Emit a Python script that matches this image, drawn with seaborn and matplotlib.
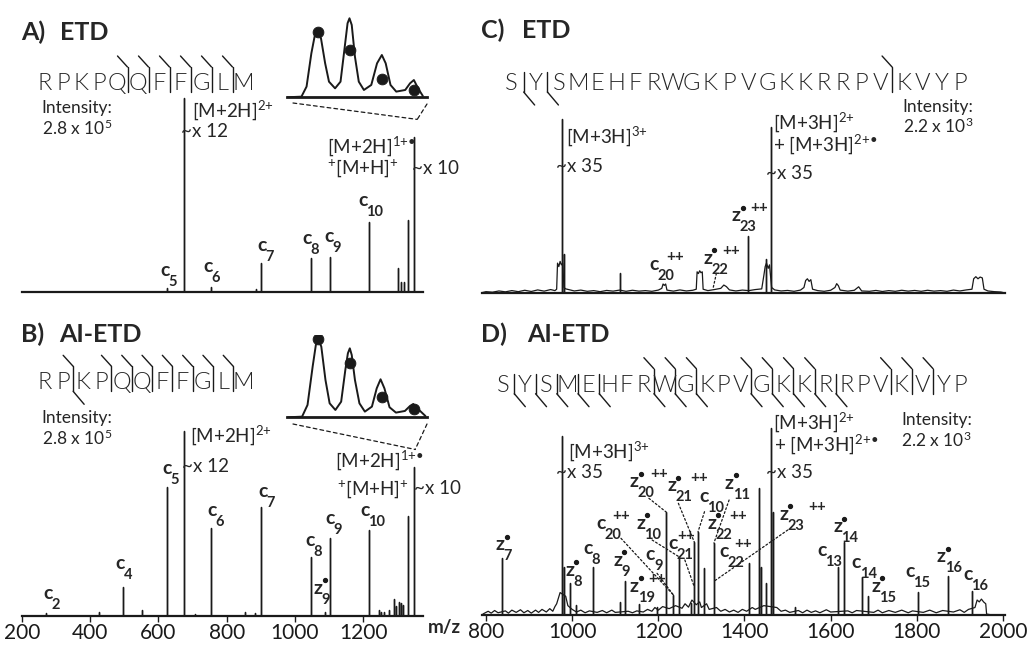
import matplotlib
matplotlib.use('Agg')
import matplotlib.pyplot as plt
from matplotlib.patches import ConnectionPatch
import pandas as pd
import seaborn as sns

# ---------------- data ----------------
# substance P, panels A (ETD) and B (AI-ETD): relative intensity, base peak = 100
a_mz = [625, 674.4, 753, 885, 900, 1047, 1104, 1217, 1302, 1311, 1320, 1330, 1347.7]
a_int = [2, 100, 2.6, 1.5, 15, 17.5, 18, 36, 12.4, 5.2, 5.2, 37, 80]

b_mz = [271, 427, 497, 552, 625, 674.4, 706, 753, 855, 883, 900, 1047, 1088, 1104, 1217,
        1245, 1253, 1260, 1275, 1289, 1296, 1304, 1310, 1316, 1330, 1347.7]
b_int = [1.6, 2.2, 15.7, 3.2, 69.7, 100, 1.2, 47.6, 2.2, 1.6, 58.9, 31.9, 2.4, 42.2, 46.5,
         3.2, 2.2, 2.2, 3.2, 9.2, 5.4, 7.6, 7, 5.9, 54, 80.5]

# ACTH 1-24, panels C (ETD) and D (AI-ETD)
c_mz = [976, 980, 1112, 1408, 1450, 1462]
c_int = [100, 22, 11.5, 32.8, 19.5, 95.4]

d_mz = [837, 976, 980, 994, 1008, 1049, 1112, 1122, 1155, 1198, 1218, 1235, 1249, 1276,
        1283.5, 1292, 1306, 1329, 1411, 1433, 1439, 1451, 1462, 1466, 1517, 1616, 1630,
        1673, 1687, 1802, 1872, 1929]
d_int = [30.3, 95.7, 25.7, 17.1, 5.3, 25.7, 7, 18.2, 5.9, 4.3, 55.1, 10.7, 31, 6.4,
         39, 44.4, 25.1, 38.5, 27.8, 67.9, 25.7, 17.1, 100, 55.1, 4.3, 25.7, 39,
         20.3, 10.2, 12.3, 20.9, 12.8]

c_noise_mz = [790, 800, 815, 830, 845, 860, 875, 890, 905, 920,
              935, 950, 960, 964, 966, 969, 972, 975, 978, 981,
              985, 995, 1005, 1020, 1035, 1050, 1065, 1080, 1095, 1110,
              1125, 1140, 1155, 1170, 1185, 1200, 1208, 1211, 1214, 1217,
              1220, 1235, 1250, 1265, 1280, 1288, 1290, 1293, 1296, 1299,
              1302, 1304, 1315, 1330, 1345, 1352, 1358, 1365, 1380, 1395,
              1410, 1425, 1440, 1445, 1448, 1451, 1455, 1458, 1463, 1470,
              1485, 1500, 1515, 1530, 1538, 1542, 1546, 1550, 1554, 1558,
              1570, 1585, 1600, 1610, 1614, 1618, 1622, 1640, 1655, 1665,
              1672, 1690, 1705, 1720, 1735, 1750, 1765, 1780, 1795, 1810,
              1825, 1840, 1855, 1870, 1885, 1900, 1915, 1928, 1932, 1937,
              1942, 1947, 1952, 1956, 1965, 1980, 1995, 2002]
c_noise_int = [0, 0.6, 0.3, 1.0, 0.5, 1.2, 0.6, 1.4, 0.7, 1.6,
               0.9, 1.8, 1.2, 2.0, 17, 15, 18, 16, 17, 3.0,
               2.2, 1.6, 1.0, 1.5, 0.8, 1.2, 0.6, 1.3, 0.9, 1.5,
               0.8, 1.4, 0.9, 1.2, 0.8, 1.5, 2.5, 5.0, 4.2, 5.0,
               1.5, 0.9, 1.6, 1.0, 1.4, 2.0, 12, 11, 12.6, 11.5,
               12, 2.0, 1.2, 1.8, 2.5, 4.4, 3.5, 1.6, 1.0, 1.5,
               1.2, 1.8, 2.2, 10, 15, 17, 14, 16, 3.0, 1.6,
               1.0, 1.3, 0.8, 1.5, 3.0, 7.0, 8.0, 6.5, 7.5, 2.0,
               1.2, 0.8, 1.4, 3.0, 5.2, 4.0, 1.5, 0.9, 1.4, 3.4,
               1.0, 0.8, 1.3, 0.7, 1.2, 0.8, 1.4, 0.9, 1.3, 0.8,
               1.4, 0.9, 1.2, 0.8, 1.5, 1.0, 1.6, 2.0, 8.0, 9.2,
               8.0, 9.0, 8.5, 2.0, 1.0, 0.6, 0.4, 0]

d_noise_mz = [790, 795, 805, 812, 820, 828, 845, 852, 860, 870,
              880, 888, 897, 905, 915, 922, 930, 940, 948, 955,
              960, 964, 968, 972, 985, 990, 1000, 1010, 1020, 1030,
              1040, 1058, 1070, 1080, 1092, 1100, 1130, 1140, 1150, 1165,
              1175, 1185, 1192, 1200, 1210, 1225, 1240, 1255, 1262, 1270,
              1278, 1288, 1296, 1300, 1312, 1318, 1335, 1345, 1355, 1365,
              1375, 1385, 1395, 1405, 1418, 1425, 1445, 1475, 1485, 1495,
              1505, 1525, 1535, 1545, 1555, 1565, 1575, 1590, 1600, 1640,
              1650, 1660, 1700, 1710, 1720, 1735, 1750, 1765, 1780, 1790,
              1815, 1830, 1845, 1860, 1885, 1900, 1910, 1920, 1935, 1940,
              1945, 1950, 1955, 1960, 1962, 1975, 2002]
d_noise_int = [0, 0.8, 2.0, 1.0, 2.4, 1.2, 2.2, 1.0, 2.6, 1.4,
               2.8, 1.2, 2.4, 1.0, 2.6, 1.4, 3.0, 1.6, 3.4, 2.0,
               4.5, 6.0, 9.0, 12, 10, 5.0, 3.0, 1.6, 2.6, 1.2,
               2.2, 1.4, 2.4, 1.2, 2.6, 1.4, 2.0, 1.2, 2.2, 1.6,
               3.0, 2.0, 4.0, 2.6, 4.5, 3.4, 5.0, 3.6, 6.0, 4.2,
               8.0, 5.5, 7.0, 4.0, 6.0, 3.0, 4.0, 2.0, 3.0, 1.6,
               2.6, 1.4, 3.0, 2.0, 4.0, 3.0, 5.0, 4.0, 2.0, 2.6,
               1.4, 2.4, 1.2, 2.6, 1.4, 2.2, 1.2, 2.8, 1.6, 2.2,
               1.2, 2.4, 1.4, 2.6, 1.2, 2.4, 1.4, 2.6, 1.2, 2.2,
               1.4, 2.6, 1.2, 2.4, 1.6, 2.8, 1.4, 3.0, 4.0, 8.0,
               7.0, 8.5, 7.0, 6.0, 0.5, 0, 0]

# isotope envelope of the precursor (insets), x = m/z offset from monoisotopic
ins_a_x = [-0.96, -0.51, -0.35, -0.20, -0.10, 0, 0.10, 0.23, 0.35, 0.54, 0.71, 0.83, 0.93, 0.99,
           1.06, 1.16, 1.28, 1.44, 1.67, 1.85, 2.0, 2.12, 2.27, 2.45, 2.73, 2.88, 3.0, 3.13, 3.28]
ins_a_y = [0, 0.8, 13, 53.5, 73.7, 78.6, 71.7, 41.3, 19, 10.9, 19, 57.5, 90, 96,
           87.9, 49.4, 19, 8.9, 15, 41.3, 51.4, 41.3, 15, 6.9, 8.9, 17, 21, 10.9, 1.6]
ins_b_x = [-0.93, -0.49, -0.32, -0.16, -0.06, 0.02, 0.11, 0.24, 0.37, 0.55, 0.73, 0.86, 0.94, 1.0,
           1.06, 1.16, 1.30, 1.47, 1.69, 1.84, 1.96, 2.08, 2.24, 2.44, 2.72, 2.88, 2.98, 3.14, 3.36]
ins_b_y = [0, 0.8, 15, 61.6, 87.9, 94.8, 85.9, 45.4, 17, 8.9, 19, 57.5, 77.8, 83.8,
           75.7, 45.4, 17, 6.9, 13, 35.2, 46.2, 35.2, 12.2, 5.7, 7.7, 13.8, 16.2, 9.7, 1.6]
iso_x = [0, 1, 2, 3]
iso_a_y = [79, 57, 22, 9]
iso_b_y = [95, 66, 25, 10]

seq_subp = 'RPKPQQFFGLM'
seq_acth = 'SYSMEHFRWGKPVGKKRRPVKVYP'

# ---------------- style ----------------
sns.set_theme(style='white')
plt.rcParams['font.family'] = ['Lato', 'DejaVu Sans']
plt.rcParams['mathtext.fontset'] = 'custom'
plt.rcParams['mathtext.rm'] = 'Lato'
plt.rcParams['mathtext.it'] = 'Lato:italic'
plt.rcParams['mathtext.bf'] = 'Lato:bold'

W, H = 1028, 651
fig = plt.figure(figsize=(W / 100, H / 100), dpi=100)


def sx(x):
    # right-hand panels were traced on a slightly wider scale
    return 486 + (x - 486) * 0.983 if x > 470 else x


def px_axes(x0, x1, ybase, ytop):
    return fig.add_axes([x0 / W, (H - ybase) / H, (x1 - x0) / W, (ybase - ytop) / H])


def sticks(mz, inten):
    rows = []
    for m, i in zip(mz, inten):
        rows += [(m, 0), (m, i), (m, 0)]
    return pd.DataFrame(rows, columns=['mz', 'intensity'])


def spectrum(ax, mz, inten, xlim, ytop, noise=None, ticks=None):
    if noise is not None:
        nd = pd.DataFrame({'mz': noise[0], 'intensity': noise[1]})
        sns.lineplot(data=nd, x='mz', y='intensity', ax=ax, color='k', lw=0.9,
                     estimator=None, sort=False)
    sns.lineplot(data=sticks(mz, inten), x='mz', y='intensity', ax=ax, color='k',
                 lw=1.0, estimator=None, sort=False)
    ax.set_xlim(*xlim)
    ax.set_ylim(0, ytop)
    for s in ['top', 'left', 'right']:
        ax.spines[s].set_visible(False)
    ax.spines['bottom'].set_linewidth(1.6)
    ax.spines['bottom'].set_color('k')
    ax.set_xlabel('')
    ax.set_ylabel('')
    ax.set_yticks([])
    ax.patch.set_alpha(0)
    if ticks is None:
        ax.set_xticks([])
    else:
        ax.set_xticks(ticks)
        ax.tick_params(axis='x', bottom=True, direction='out', length=4, width=1,
                       colors='k', labelsize=15, pad=1)


axA = px_axes(21.7, 422.7, 292, 10)
axB = px_axes(21.7, 422.7, 616, 334)
axC = px_axes(481.7, 1004.7, 292.7, 10)
axD = px_axes(481.7, 1004.7, 615, 333)

spectrum(axA, a_mz, a_int, (200, 1374), 145.4)
spectrum(axB, b_mz, b_int, (200, 1374), 152.4, ticks=[200, 400, 600, 800, 1000, 1200])
spectrum(axC, c_mz, c_int, (790, 2004), 162.5, noise=(c_noise_mz, c_noise_int))
spectrum(axD, d_mz, d_int, (790, 2004), 150.8, noise=(d_noise_mz, d_noise_int),
         ticks=[800, 1000, 1200, 1400, 1600, 1800, 2000])

# insets with the isotope envelope
for (yb, yt, ix, iy, dy) in [(97.3, 15, ins_a_x, ins_a_y, iso_a_y),
                             (417.3, 335, ins_b_x, ins_b_y, iso_b_y)]:
    ia = px_axes(286.7, 426.7, yb, yt)
    sns.lineplot(x=ix, y=iy, ax=ia, color='k', lw=1.4, estimator=None, sort=False)
    sns.scatterplot(x=iso_x, y=dy, ax=ia, color='k', s=60, edgecolor='k', zorder=3)
    ia.set_xlim(-0.97, 3.4)
    ia.set_ylim(0, 100)
    for s in ['top', 'left', 'right']:
        ia.spines[s].set_visible(False)
    ia.spines['bottom'].set_linewidth(2)
    ia.spines['bottom'].set_color('k')
    ia.set_xticks([])
    ia.set_yticks([])
    ia.patch.set_alpha(0)

# overlay in pixel units for all annotation text
ov = fig.add_axes([0, 0, 1, 1], zorder=5)
ov.set_xlim(0, W)
ov.set_ylim(H, 0)
ov.axis('off')
ov.patch.set_alpha(0)


def leader(p, ax, xy, dash=(0, (2.2, 2.2))):
    con = ConnectionPatch(xyA=(sx(p[0]), p[1]), coordsA=ov.transData, xyB=xy,
                          coordsB=ax.transData, color='k', lw=0.9, linestyle=dash)
    fig.add_artist(con)


# zoom lines from the insets down to the precursor peak
leader((293, 103), axA, (1358, 89), dash=(0, (3, 2.5)))
leader((427, 104), axA, (1358, 89), dash=(0, (3, 2.5)))
leader((293, 424), axB, (1352, 90), dash=(0, (3, 2.5)))
leader((427, 424), axB, (1352, 90), dash=(0, (3, 2.5)))

# panel titles
for x1, x2, y, a, b in [(20.7, 60, 40, 'A)', 'ETD'), (20.7, 59.3, 341.7, 'B)', 'AI-ETD'),
                        (480.7, 521.9, 38.3, 'C)', 'ETD'), (480.7, 527.2, 341.7, 'D)', 'AI-ETD')]:
    ov.text(x1, y, a, fontsize=18, fontweight='bold', va='baseline')
    ov.text(x2, y, b, fontsize=18, fontweight='bold', va='baseline')


def sequence(seq, x0, pitch, gap, ybase, c_sites, z_sites):
    yc = ybase - 9
    marked = set(c_sites) | set(z_sites)
    xs = [x0]
    for i in range(1, len(seq)):
        xs.append(xs[-1] + pitch + (gap if i in marked else 0))
    for x, aa in zip(xs, seq):
        ov.text(x, ybase, aa, fontsize=17, fontweight=300, ha='center', va='baseline')
    for site in sorted(marked):
        x = (xs[site - 1] + xs[site]) / 2
        top = yc - 14 if site in c_sites else yc - 9
        bot = yc + 11
        ov.plot([x, x], [top, bot], color='k', lw=1.0)
        if site in c_sites:
            ov.plot([x, x - 10], [top, top - 11], color='k', lw=1.0)
        if site in z_sites:
            ov.plot([x, x + 11], [bot, bot + 13], color='k', lw=1.0)


sequence(seq_subp, 45, 18, 3, 90, [5, 6, 7, 8, 9, 10], [])
sequence(seq_subp, 45, 18, 2.3, 389.3, [2, 4, 5, 6, 7, 8, 9, 10], [2])
sequence(seq_acth, sx(512.2), 19.2 * 0.983, 5 * 0.983, 90, [20], [1, 2])
sequence(seq_acth, sx(504), 17 * 0.983, 4.6 * 0.983, 391.7, [8, 9, 10, 13, 14, 15, 16, 20, 21, 22],
         [1, 2, 3, 4, 5, 8, 9, 10, 13, 14, 15, 16, 17])

# intensity notes
for x, y, s in [(41.7, 108, '2.8 x 10$^{5}$'), (41.7, 418.3, '2.8 x 10$^{5}$'),
                (910, 106.7, '2.2 x 10$^{3}$'), (908.2, 420, '2.2 x 10$^{3}$')]:
    ov.text(sx(x), y, 'Intensity:', fontsize=12.5, va='center')
    ov.text(sx(x), y + 20, s, fontsize=12.5, va='center')

# precursor labels
big = [(192, 110, '[M+2H]$^{2{+}}$'), (181, 131.7, '~x 12'),
       (326.7, 146, '[M+2H]$^{1{+}\u2022}$'), (327, 168, '$^{+}$[M+H]$^{+}$'), (412, 168, '~x 10'),
       (190, 435, '[M+2H]$^{2{+}}$'), (181.7, 466.7, '~x 12'),
       (335, 460, '[M+2H]$^{1{+}\u2022}$'), (336.7, 489, '$^{+}$[M+H]$^{+}$'), (414, 489, '~x 10'),
       (567.3, 135.8, '[M+3H]$^{3{+}}$'), (557.6, 166.7, '~x 35'),
       (777.6, 122.5, '[M+3H]$^{2{+}}$'), (777.6, 144.5, '+ [M+3H]$^{2{+}\u2022}$'), (770.5, 173.8, '~x 35'),
       (569.4, 450.8, '[M+3H]$^{3{+}}$'), (557.6, 472.5, '~x 35'),
       (778.3, 422.5, '[M+3H]$^{2{+}}$'), (779.4, 443.8, '+ [M+3H]$^{2{+}\u2022}$'), (770.5, 472.5, '~x 35')]
for x, y, s in big:
    ov.text(sx(x), y, s, fontsize=13.5, va='center')


def ion(letter, sub, x, y, dot=False, plus=0):
    x = sx(x)
    ov.text(x, y, letter, fontsize=14, fontweight='bold', ha='center', va='center')
    ov.text(x + 3.5, y + 11.5, sub, fontsize=10.5, fontweight='bold', ha='left', va='center')
    if dot:
        ov.plot([x + 6.5], [y - 8], 'o', ms=2.8, color='k')
    if plus:
        ov.text(x + plus, y - 7.5, '++', fontsize=11, fontweight='bold', ha='center', va='center')


ions = [('c', '5', 165, 271, False, 0), ('c', '6', 208, 267, False, 0), ('c', '7', 261.7, 245.8, False, 0),
        ('c', '8', 306.7, 238, False, 0), ('c', '9', 329, 236, False, 0), ('c', '10', 363, 201, False, 0),
        ('c', '2', 48.3, 593.3, False, 0), ('c', '4', 120, 563.3, False, 0), ('c', '5', 166.7, 468.3, False, 0),
        ('c', '6', 211.7, 510, False, 0), ('c', '7', 263.3, 491.7, False, 0), ('c', '8', 310, 540, False, 0),
        ('c', '9', 330, 518.3, False, 0), ('c', '10', 365, 510, False, 0), ('z', '9', 318.3, 588.3, True, 0),
        ('c', '20', 656.7, 265, False, 21), ('z', '22', 711.4, 258, True, 24), ('z', '23', 740.8, 215.8, True, 23),
        ('z', '7', 500.4, 545, True, 0), ('z', '8', 571.3, 570, True, 0), ('c', '8', 590, 549, False, 0),
        ('z', '9', 620, 560, True, 0), ('z', '19', 636.7, 586, True, 23), ('c', '20', 603.3, 523.3, False, 20),
        ('z', '10', 643.3, 523.3, True, 0), ('c', '9', 653.3, 554, False, 0), ('z', '20', 636.7, 481.7, True, 25),
        ('z', '21', 675, 485.7, True, 27), ('c', '10', 707.7, 496.7, False, 0), ('z', '11', 733.3, 483.3, True, 0),
        ('c', '21', 676.7, 543.3, False, 13), ('z', '22', 715.7, 523.3, True, 26), ('c', '22', 728.3, 551.7, False, 19),
        ('z', '23', 789, 514, True, 33), ('c', '13', 827.7, 550, False, 0), ('z', '14', 843.8, 526.7, True, 0),
        ('c', '14', 862.5, 562.3, False, 0), ('z', '15', 882.4, 586, True, 0), ('c', '15', 917.1, 571.7, False, 0),
        ('z', '16', 949.3, 556.7, True, 0), ('c', '16', 976.1, 575, False, 0)]
for letter, sub, x, y, dot, plus in ions:
    ion(letter, sub, x, y, dot, plus)

# dotted leaders from labels to their peaks
dot_line = (0, (1.5, 1.8))
leader((720.4, 273.3), axC, (1327, 2.5), dot_line)
for p, xy in [((651.7, 498.3), (1218, 55.1)), ((681.7, 503.3), (1283.5, 39)),
              ((708.3, 511.7), (1292, 44.4)), ((733.3, 500), (1329, 38.5)),
              ((623.3, 538.3), (1235, 10.7)), ((655, 540), (1249, 31)),
              ((688.3, 560), (1283.5, 15)), ((660, 573.3), (1235, 10.7)),
              ((793, 530), (1329, 18))]:
    leader(p, axD, xy, dot_line)

ov.text(444, 628, 'm/z', fontsize=13.5, fontweight='bold', ha='center', va='center')

fig.savefig('out.png', dpi=100)
